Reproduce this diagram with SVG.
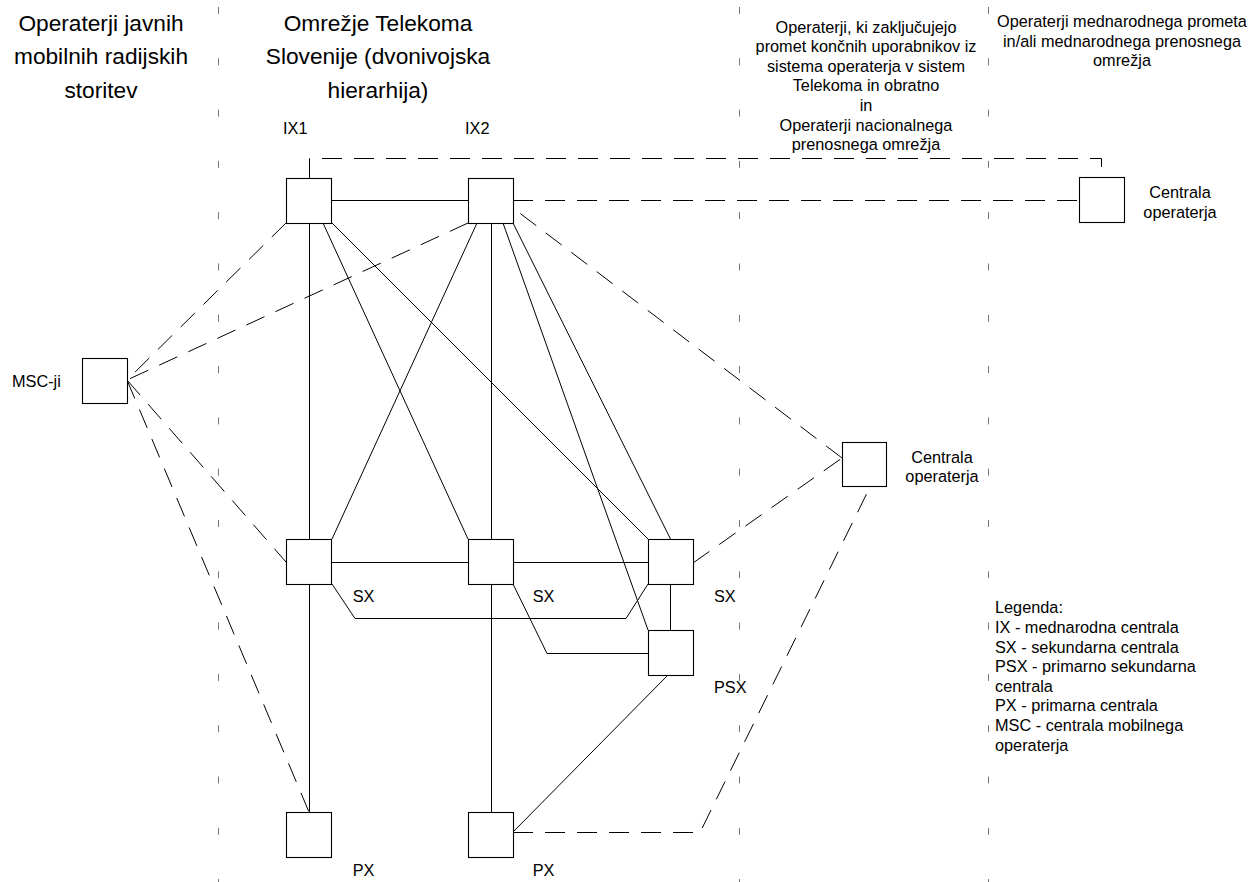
<svg xmlns="http://www.w3.org/2000/svg" width="1260" height="882" viewBox="0 0 1260 882">
<style>
text{font-family:"Liberation Sans",Arial,sans-serif;fill:#000}
.big{font-size:22.7px;text-anchor:middle}
.sm{font-size:16.3px}
.c{text-anchor:middle}
.box{fill:#fff;stroke:#000;stroke-width:1.1}
.ln{fill:none;stroke:#000;stroke-width:1}
.dash{fill:none;stroke:#000;stroke-width:1;stroke-dasharray:20 12}
.sep{fill:none;stroke:#777;stroke-width:1;stroke-dasharray:7 44.3}
</style>
<rect width="1260" height="882" fill="#fff"/>
<g id="separators">
<line class="sep" x1="218.5" y1="7" x2="218.5" y2="882"/>
<line class="sep" x1="739.5" y1="7" x2="739.5" y2="882"/>
<line class="sep" x1="988.5" y1="7" x2="988.5" y2="882"/>
</g>
<g id="headers">
<text class="big" x="101" y="30.7">Operaterji javnih</text>
<text class="big" x="101" y="64.2">mobilnih radijskih</text>
<text class="big" x="101" y="97.7">storitev</text>
<text class="big" x="378" y="30.7">Omrežje Telekoma</text>
<text class="big" x="378" y="64.2">Slovenije (dvonivojska</text>
<text class="big" x="378" y="97.7">hierarhija)</text>
<g class="sm c">
<text class="sm c" x="866" y="32.5">Operaterji, ki zaključujejo</text>
<text class="sm c" x="866" y="52.1">promet končnih uporabnikov iz</text>
<text class="sm c" x="866" y="71.7">sistema operaterja v sistem</text>
<text class="sm c" x="866" y="91.3">Telekoma in obratno</text>
<text class="sm c" x="866" y="110.9">in</text>
<text class="sm c" x="866" y="130.5">Operaterji nacionalnega</text>
<text class="sm c" x="866" y="150.1">prenosnega omrežja</text>
<text class="sm c" x="1122" y="27">Operaterji mednarodnega prometa</text>
<text class="sm c" x="1122" y="46.6">in/ali mednarodnega prenosnega</text>
<text class="sm c" x="1122" y="66.2">omrežja</text>
</g>
</g>
<g id="connectors">
<path class="ln" d="M331.5,200.5H468.5"/>
<path class="ln" d="M309.5,223V539M309.5,584V812"/>
<path class="ln" d="M491.5,223V539M491.5,584V812"/>
<path class="ln" d="M323,223L468,539"/>
<path class="ln" d="M332,223L648,539"/>
<path class="ln" d="M477,223L332,539"/>
<path class="ln" d="M503,223L648,630"/>
<path class="ln" d="M513,223L670.5,539"/>
<path class="ln" d="M331.5,562.5H468.5M513.5,562.5H648.5"/>
<path class="ln" d="M332,584L355,618.5H626L648,584"/>
<path class="ln" d="M513,584L547,653.5H648"/>
<path class="ln" d="M670.5,584V630"/>
<path class="ln" d="M668,675L513,832"/>
<path class="dash" d="M309.5,178V158.5H1101.5V177"/>
<path class="dash" d="M513,200.5H1079"/>
<path class="dash" d="M286,223L127,380"/>
<path class="dash" d="M468,223L127,380"/>
<path class="dash" d="M127,380L286,562"/>
<path class="dash" d="M127,380L309,812"/>
<path class="dash" d="M842,458L513,208"/>
<path class="dash" d="M693,563L842,458"/>
<path class="dash" d="M513,832.5H700L870,487"/>
</g>
<g id="IX1"><rect class="box" x="286.5" y="178.5" width="45" height="45"/><text class="sm" x="283" y="134">IX1</text></g>
<g id="IX2"><rect class="box" x="468.5" y="178.5" width="45" height="45"/><text class="sm" x="465" y="134">IX2</text></g>
<g id="centrala-ix"><rect class="box" x="1079.5" y="177.5" width="45" height="45"/><text class="sm c" x="1180" y="198.3">Centrala</text><text class="sm c" x="1180" y="217.9">operaterja</text></g>
<g id="MSC"><rect class="box" x="82.5" y="358.5" width="45" height="45"/><text class="sm" x="12" y="387">MSC-ji</text></g>
<g id="centrala-nac"><rect class="box" x="842.5" y="442.5" width="44" height="44"/><text class="sm c" x="942" y="462.5">Centrala</text><text class="sm c" x="942" y="482.1">operaterja</text></g>
<g id="SX1"><rect class="box" x="286.5" y="539.5" width="45" height="45"/><text class="sm" x="352.7" y="602">SX</text></g>
<g id="SX2"><rect class="box" x="468.5" y="539.5" width="45" height="45"/><text class="sm" x="532.7" y="602">SX</text></g>
<g id="SX3"><rect class="box" x="648.5" y="539.5" width="45" height="45"/><text class="sm" x="714" y="602">SX</text></g>
<g id="PSX"><rect class="box" x="648.5" y="630.5" width="45" height="45"/><text class="sm" x="714" y="693">PSX</text></g>
<g id="PX1"><rect class="box" x="286.5" y="812.5" width="45" height="45"/><text class="sm" x="352.7" y="875.5">PX</text></g>
<g id="PX2"><rect class="box" x="468.5" y="812.5" width="45" height="45"/><text class="sm" x="532.7" y="875.5">PX</text></g>
<g id="legend">
<text class="sm" x="995" y="613.3">Legenda:</text>
<text class="sm" x="995" y="632.9">IX - mednarodna centrala</text>
<text class="sm" x="995" y="652.5">SX - sekundarna centrala</text>
<text class="sm" x="995" y="672.1">PSX - primarno sekundarna</text>
<text class="sm" x="995" y="691.7">centrala</text>
<text class="sm" x="995" y="711.3">PX - primarna centrala</text>
<text class="sm" x="995" y="730.9">MSC - centrala mobilnega</text>
<text class="sm" x="995" y="750.5">operaterja</text>
</g>
</svg>
